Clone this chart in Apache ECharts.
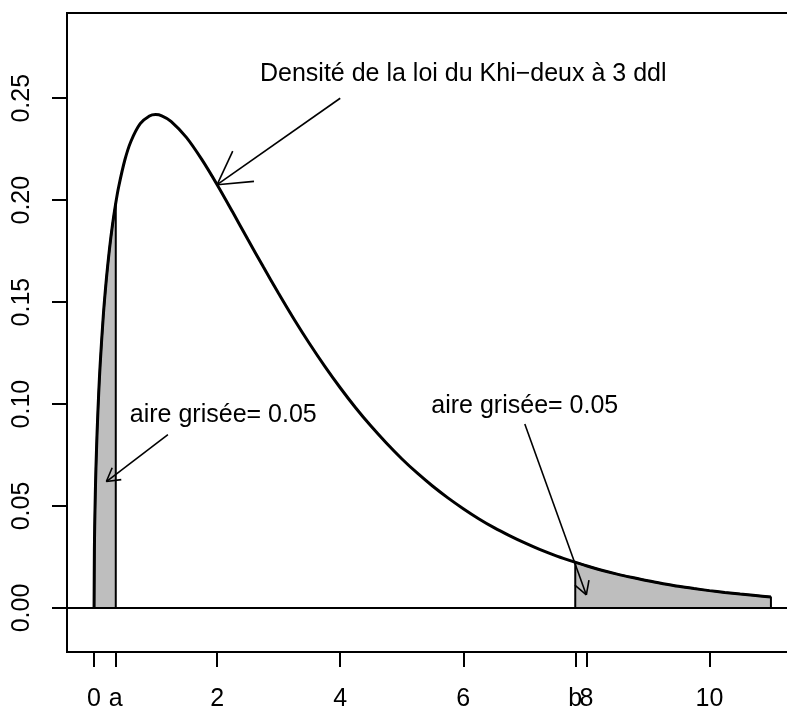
<!DOCTYPE html>
<html>
<head>
<meta charset="utf-8">
<script src="https://cdn.jsdelivr.net/npm/echarts@6/dist/echarts.min.js"></script>
<style>
  html, body { margin: 0; padding: 0; background: #fff; }
  #chart { width: 787px; height: 711px; }
</style>
</head>
<body>
<div id="chart"></div>
<script>
// densité du khi-deux à 3 ddl
const densX = [0, 0.005, 0.01, 0.02, 0.03, 0.05, 0.075, 0.1, 0.15, 0.2, 0.25, 0.3, 0.3526, 0.4, 0.5, 0.6, 0.75, 0.9, 1, 1.1, 1.25, 1.5, 1.75,
  2, 2.25, 2.5, 2.75, 3, 3.25, 3.5, 3.75, 4, 4.25, 4.5, 4.75, 5, 5.25, 5.5, 5.75, 6, 6.25, 6.5, 6.75, 7, 7.25, 7.5, 7.75, 7.82,
  8, 8.25, 8.5, 8.75, 9, 9.25, 9.5, 9.75, 10, 10.25, 10.5, 10.75, 11];
const densY = [0, 0.0281, 0.0397, 0.0559, 0.0681, 0.0870, 0.1052, 0.1200, 0.1434, 0.1614, 0.1760, 0.1881, 0.1986, 0.2066, 0.2197, 0.2289, 0.2375, 0.2413, 0.2420, 0.2414, 0.2387, 0.2308, 0.2200,
  0.2076, 0.1943, 0.1807, 0.1673, 0.1542, 0.1416, 0.1297, 0.1185, 0.1080, 0.0982, 0.0892, 0.0809, 0.0732, 0.0662, 0.0598, 0.0540, 0.0487, 0.0438, 0.0394, 0.0355, 0.0319, 0.0286, 0.0257, 0.0231, 0.0224,
  0.0207, 0.0185, 0.0166, 0.0149, 0.0133, 0.0119, 0.0106, 0.0095, 0.0085, 0.0076, 0.0068, 0.0061, 0.0054];

const quantA = 0.3526;
const quantB = 7.82;

const xTickVals = [0, quantA, 2, 4, 6, quantB, 8, 10];
const xTickLabels = ['0', 'a', '2', '4', '6', 'b', '8', '10'];
const yTickVals = [0, 0.05, 0.1, 0.15, 0.2, 0.25];
const yTickLabels = ['0.00', '0.05', '0.10', '0.15', '0.20', '0.25'];

// flèches : [x0, y0, x1, y1] et longueur de la pointe
const arrowsData = [
  [4, 0.25, 2, 0.2076],
  [1.2, 0.085, 0.2, 0.062],
  [7, 0.0902, 8.0, 0.0064]
];
const arrowHead = [37, 15, 15];

const noteX = [6, 2.1, 7];
const noteY = [0.262, 0.0945, 0.099];
const noteText = ['Densité de la loi du Khi\u2212deux à 3 ddl', 'aire grisée= 0.05', 'aire grisée= 0.05'];

const FONT = '"Liberation Sans", Arial, Helvetica, sans-serif';
const FS = 25;

const curve = densX.map((x, i) => [x, densY[i]]);
const leftArea = curve.filter(p => p[0] <= quantA).concat([[quantA, 0]]);
const rightArea = [[quantB, 0]].concat(curve.filter(p => p[0] >= quantB)).concat([[11, 0]]);

function labelFor(vals, labels) {
  return v => {
    for (let i = 0; i < vals.length; i++) {
      if (Math.abs(vals[i] - v) < 1e-6) return labels[i];
    }
    return '';
  };
}

const chart = echarts.init(document.getElementById('chart'));

const option = {
  animation: false,
  backgroundColor: '#fff',
  grid: {
    left: 67, top: 13, width: 731, height: 639,
    outerBoundsMode: 'none', containLabel: false,
    show: true, borderColor: '#000', borderWidth: 2
  },
  xAxis: {
    type: 'value', min: -0.44, max: 11.44,
    axisLine: { show: true, onZero: false, lineStyle: { color: '#000', width: 2 } },
    axisTick: { show: true, length: 15, customValues: xTickVals, lineStyle: { color: '#000', width: 2 } },
    axisLabel: { customValues: xTickVals, formatter: labelFor(xTickVals, xTickLabels), color: '#000', fontSize: FS, fontFamily: FONT, margin: 35 },
    splitLine: { show: false }
  },
  yAxis: {
    type: 'value', min: -0.0216, max: 0.2918,
    axisLine: { show: true, onZero: false, lineStyle: { color: '#000', width: 2 } },
    axisTick: { show: true, length: 15, customValues: yTickVals, lineStyle: { color: '#000', width: 2 } },
    axisLabel: { customValues: yTickVals, formatter: labelFor(yTickVals, yTickLabels), rotate: 90, color: '#000', fontSize: FS, fontFamily: FONT, margin: 32 },
    splitLine: { show: false }
  },
  series: [
    {
      type: 'line', data: leftArea, showSymbol: false, smooth: false,
      lineStyle: { color: '#000', width: 2 },
      areaStyle: { color: '#bebebe', opacity: 1, origin: 0 },
      z: 2
    },
    {
      type: 'line', data: rightArea, showSymbol: false, smooth: false,
      lineStyle: { color: '#000', width: 2 },
      areaStyle: { color: '#bebebe', opacity: 1, origin: 0 },
      z: 2
    },
    {
      type: 'line', data: curve, showSymbol: false, smooth: 0.3,
      lineStyle: { color: '#000', width: 3 },
      markLine: {
        silent: true, symbol: ['none', 'none'], label: { show: false },
        lineStyle: { color: '#000', width: 2, type: 'solid' },
        data: [{ yAxis: 0 }]
      },
      z: 3
    },
    {
      type: 'custom', data: arrowsData, z: 4,
      encode: { x: [0, 2], y: [1, 3] },
      renderItem: (params, api) => {
        const p0 = api.coord([api.value(0), api.value(1)]);
        const p1 = api.coord([api.value(2), api.value(3)]);
        const ang = Math.atan2(p0[1] - p1[1], p0[0] - p1[0]);
        const len = arrowHead[params.dataIndex], spread = Math.PI / 6;
        const h1 = [p1[0] + len * Math.cos(ang + spread), p1[1] + len * Math.sin(ang + spread)];
        const h2 = [p1[0] + len * Math.cos(ang - spread), p1[1] + len * Math.sin(ang - spread)];
        const st = { stroke: '#000', lineWidth: 1.6, fill: null };
        return {
          type: 'group',
          children: [
            { type: 'line', shape: { x1: p0[0], y1: p0[1], x2: p1[0], y2: p1[1] }, style: st },
            { type: 'line', shape: { x1: p1[0], y1: p1[1], x2: h1[0], y2: h1[1] }, style: st },
            { type: 'line', shape: { x1: p1[0], y1: p1[1], x2: h2[0], y2: h2[1] }, style: st }
          ]
        };
      }
    },
    {
      type: 'custom', data: noteX.map((x, i) => [x, noteY[i]]), z: 5,
      renderItem: (params, api) => {
        const p = api.coord([api.value(0), api.value(1)]);
        return {
          type: 'text',
          style: {
            x: p[0], y: p[1], text: noteText[params.dataIndex],
            fill: '#000', font: FS + 'px ' + FONT,
            textAlign: 'center', textVerticalAlign: 'middle'
          }
        };
      }
    }
  ]
};

option && chart.setOption(option);
</script>
</body>
</html>
